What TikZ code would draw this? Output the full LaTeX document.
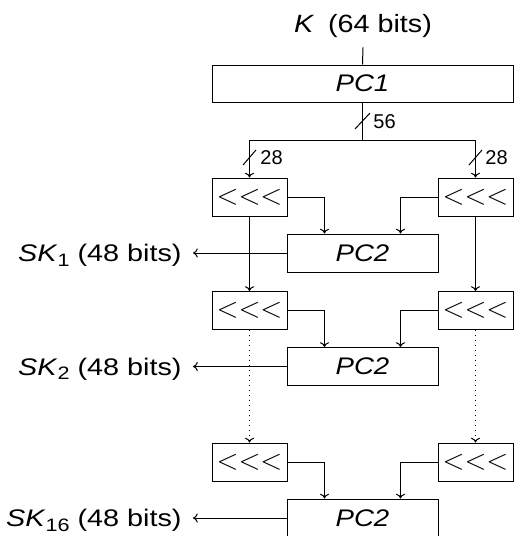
\documentclass[tikz,border=0pt]{standalone}
\usepackage{graphicx}
\usepackage{fontspec}
\setmainfont{Liberation Sans}
\usetikzlibrary{arrows.meta,calc}
\newcommand{\sx}[1]{\scalebox{1.15}[1]{#1}}
\newcommand{\skx}[1]{\scalebox{1.2}[1]{#1}}
\tikzset{
  conn/.style={line width=0.5pt},
  arr/.style={conn, -{To[length=2.4pt,width=4.6pt]}},
  box/.style={draw, line width=0.5pt, inner sep=0pt, minimum height=19pt, font=\fontsize{12}{14}\selectfont},
  rotbox/.style={box, minimum width=37.5pt, font=\fontsize{14.4}{16}\selectfont},
  pcbox/.style={box, minimum width=75.5pt},
  sklbl/.style={inner ysep=0pt, inner xsep=5.5pt, anchor=east, font=\fontsize{12}{14}\selectfont},
  numlbl/.style={inner sep=0pt, anchor=west, font=\fontsize{10}{12}\selectfont},
}
\begin{document}
\begin{tikzpicture}[x=0.5pt,y=-0.5pt]
\useasboundingbox (0,0) rectangle (514,536);

% input
\node[inner xsep=0pt, inner ysep=4.7pt, anchor=base, font=\fontsize{12.5}{15}\selectfont] (k) at (363,32.5) {\sx{\textit{K}\hspace{2.5pt} (64 bits)}};
\node[box, minimum width=150.5pt, minimum height=18.5pt] (pc1) at (362.5,83.5) {\sx{\textit{PC1}}};
\draw[conn] (k.south) -- (pc1.north);

% split
\coordinate (j) at (362.5,140);
\coordinate (jl) at (249.5,140);
\coordinate (jr) at (475.5,140);
\draw[conn] (pc1.south) -- (j);
\draw[conn] (jl) -- (jr);
\coordinate (s56) at (362.5,121);
\draw[conn] ([shift={(-7.5,8)}]s56) -- ([shift={(7.5,-8)}]s56);
\node[numlbl] (n56) at (373,122) {56};

% rotate boxes
\node[rotbox] (r1l) at (249.5,197) {$<<<$};
\node[rotbox] (r1r) at (475.5,197) {$<<<$};
\node[rotbox] (r2l) at (249.5,310.5) {$<<<$};
\node[rotbox] (r2r) at (475.5,310.5) {$<<<$};
\node[rotbox] (r3l) at (249.5,462) {$<<<$};
\node[rotbox] (r3r) at (475.5,462) {$<<<$};

% PC2 boxes
\node[pcbox] (p1) at (362.5,253) {\sx{\textit{PC2}}};
\node[pcbox] (p2) at (362.5,366.5) {\sx{\textit{PC2}}};
\node[pcbox] (p3) at (362.5,518) {\sx{\textit{PC2}}};

% 28 branches
\draw[arr] (jl) -- (r1l.north);
\draw[arr] (jr) -- (r1r.north);
\coordinate (s28l) at (249.5,157.5);
\coordinate (s28r) at (475.5,157.5);
\draw[conn] ([shift={(-6.5,7.5)}]s28l) -- ([shift={(6.5,-7.5)}]s28l);
\draw[conn] ([shift={(-6.5,7.5)}]s28r) -- ([shift={(6.5,-7.5)}]s28r);
\node[numlbl] (n28l) at (260,158) {28};
\node[numlbl] (n28r) at (485,158) {28};

% vertical chain
\draw[arr] (r1l.south) -- (r2l.north);
\draw[arr] (r1r.south) -- (r2r.north);
\draw[arr, dotted] (r2l.south) -- (r3l.north);
\draw[arr, dotted] (r2r.south) -- (r3r.north);

% into PC2
\foreach \r/\p in {r1/p1, r2/p2, r3/p3}{
  \draw[arr] (\r l.east) -| ($(\p.north west)!0.25!(\p.north east)$);
  \draw[arr] (\r r.west) -| ($(\p.north west)!0.75!(\p.north east)$);
}

% subkeys
\node[sklbl] (sk1) at (193,255.5) {\skx{\textit{SK}{\fontsize{9}{10}\selectfont\raisebox{-2.2pt}{1}} (48 bits)}};
\node[sklbl] (sk2) at (193,369) {\skx{\textit{SK}{\fontsize{9}{10}\selectfont\raisebox{-2.2pt}{2}} (48 bits)}};
\node[sklbl] (sk16) at (193,520.5) {\skx{\textit{SK}{\fontsize{9}{10}\selectfont\raisebox{-2.2pt}{16}} (48 bits)}};
\draw[arr] (p1.west) -- (p1.west -| sk1.east);
\draw[arr] (p2.west) -- (p2.west -| sk2.east);
\draw[arr] (p3.west) -- (p3.west -| sk16.east);
\end{tikzpicture}
\end{document}
